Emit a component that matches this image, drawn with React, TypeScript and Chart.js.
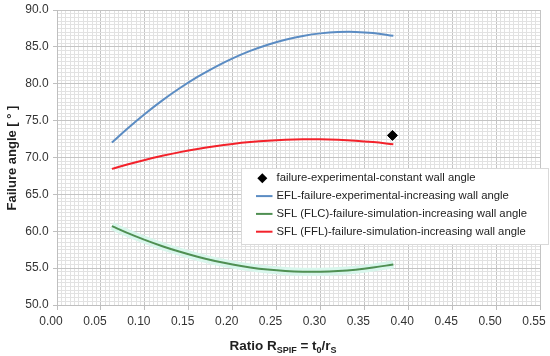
import React, { useEffect, useRef } from "react";
import { Chart, registerables } from "chart.js";

Chart.register(...registerables);

// x values (ratio R_SPIF) at which the curves were read
const curveX = [0.0625, 0.08, 0.1, 0.12, 0.14, 0.16, 0.18, 0.2, 0.22, 0.24, 0.26, 0.28, 0.3, 0.32, 0.34, 0.36, 0.383];
// EFL-failure-experimental-increasing wall angle
const eflY = [72.02, 73.91, 75.91, 77.75, 79.42, 80.92, 82.26, 83.44, 84.45, 85.29, 85.97, 86.48, 86.83, 87.01, 87.03, 86.88, 86.5];
// SFL (FLC)-failure-simulation-increasing wall angle
const sflFlcY = [60.7, 59.78, 58.83, 57.97, 57.21, 56.54, 55.96, 55.48, 55.1, 54.81, 54.61, 54.51, 54.51, 54.6, 54.78, 55.07, 55.5];
// SFL (FFL)-failure-simulation-increasing wall angle
const sflFflY = [68.46, 69.05, 69.67, 70.23, 70.73, 71.16, 71.53, 71.84, 72.09, 72.28, 72.4, 72.46, 72.46, 72.4, 72.28, 72.09, 71.8];
// failure-experimental-constant wall angle
const constX = [0.382];
const constY = [73.0];

const seriesLabels = [
  "failure-experimental-constant wall angle",
  "EFL-failure-experimental-increasing wall angle",
  "SFL (FLC)-failure-simulation-increasing wall angle",
  "SFL (FFL)-failure-simulation-increasing wall angle",
];

const X_MIN = 0, X_MAX = 0.55, X_MINOR = 0.005;
const Y_MIN = 50, Y_MAX = 90, Y_MINOR = 0.5;

const FONT = "'Liberation Sans', Arial, sans-serif";
const TXT = "#333333";

const toPts = (xs: number[], ys: number[]) => xs.map((x, i) => ({ x, y: ys[i] }));
const isMajorX = (v: number) => Math.round(v * 1000) % 50 === 0;
const isMajorY = (v: number) => Math.round(v * 10) % 50 === 0;

const overlayPlugin = {
  id: "overlay",
  afterDraw(chart: any) {
    const ctx = chart.ctx as CanvasRenderingContext2D;
    const ca = chart.chartArea;
    ctx.save();
    // Y title
    ctx.fillStyle = "#1f1f1f";
    ctx.font = `bold 13px ${FONT}`;
    ctx.textAlign = "center";
    ctx.textBaseline = "middle";
    ctx.save();
    ctx.translate(12.5, (ca.top + ca.bottom) / 2 + 0.5);
    ctx.rotate(-Math.PI / 2);
    ctx.fillText("Failure angle [ ° ]", 0, 0);
    ctx.restore();

    // X title with subscripts
    const parts: [string, boolean][] = [
      ["Ratio R", false], ["SPIF", true], [" = t", false], ["0", true], ["/r", false], ["S", true],
    ];
    const mainF = `bold 13.5px ${FONT}`;
    const subF = `bold 9px ${FONT}`;
    let total = 0;
    parts.forEach(([t, sub]) => { ctx.font = sub ? subF : mainF; total += ctx.measureText(t).width; });
    let x = 283 - total / 2;
    const base = 350;
    ctx.textAlign = "left";
    ctx.textBaseline = "alphabetic";
    parts.forEach(([t, sub]) => {
      ctx.font = sub ? subF : mainF;
      ctx.fillText(t, x, sub ? base + 3 : base);
      x += ctx.measureText(t).width;
    });

    // Legend
    const lx = 241.5, ly = 168.5, lw = 307, lh = 76;
    ctx.fillStyle = "#ffffff";
    ctx.fillRect(lx, ly, lw, lh);
    ctx.strokeStyle = "#d9d9d9";
    ctx.lineWidth = 1;
    ctx.strokeRect(lx, ly, lw, lh);
    const ds = chart.data.datasets.filter((d: any) => d.label);
    ds.forEach((d: any, i: number) => {
      const cy = 178.3 + i * 17.8;
      if (d.showLine === false) {
        ctx.fillStyle = d.backgroundColor;
        ctx.beginPath();
        ctx.moveTo(262.3, cy - 5);
        ctx.lineTo(267.3, cy);
        ctx.lineTo(262.3, cy + 5);
        ctx.lineTo(257.3, cy);
        ctx.closePath();
        ctx.fill();
      } else {
        ctx.strokeStyle = d.borderColor;
        ctx.lineWidth = 2;
        ctx.beginPath();
        ctx.moveTo(256, cy);
        ctx.lineTo(272.5, cy);
        ctx.stroke();
      }
      ctx.fillStyle = "#222222";
      ctx.font = `11.3px ${FONT}`;
      ctx.textBaseline = "middle";
      ctx.textAlign = "left";
      ctx.fillText(d.label, 276.5, cy);
    });
    ctx.restore();
  },
};

export default function App() {
  const ref = useRef<HTMLCanvasElement | null>(null);
  useEffect(() => {
    document.body.style.margin = "0";
    const canvas = ref.current!;
    const chart = new Chart(canvas, {
      type: "scatter",
      data: {
        datasets: [
          {
            label: seriesLabels[0],
            data: toPts(constX, constY),
            showLine: false,
            pointStyle: "rectRot",
            pointRadius: 5,
            backgroundColor: "#000000",
            borderColor: "#000000",
            order: 0,
          },
          {
            label: seriesLabels[1],
            data: toPts(curveX, eflY),
            showLine: true,
            pointRadius: 0,
            borderColor: "#5b8cc3",
            borderWidth: 2,
            tension: 0.4,
            order: 2,
          },
          {
            label: seriesLabels[2],
            data: toPts(curveX, sflFlcY),
            showLine: true,
            pointRadius: 0,
            borderColor: "#4f8f52",
            borderWidth: 2,
            tension: 0.4,
            order: 2,
          },
          {
            label: seriesLabels[3],
            data: toPts(curveX, sflFflY),
            showLine: true,
            pointRadius: 0,
            borderColor: "#f3222b",
            borderWidth: 2,
            tension: 0.4,
            order: 2,
          },
          {
            label: "",
            data: toPts(curveX, sflFlcY),
            showLine: true,
            pointRadius: 0,
            borderColor: "#d8f6ec",
            borderWidth: 8,
            tension: 0.4,
            order: 5,
          },
        ],
      },
      options: {
        responsive: false,
        animation: false,
        devicePixelRatio: 1,
        layout: { padding: { top: 10, right: 10, left: 0, bottom: 0 } },
        plugins: { legend: { display: false }, tooltip: { enabled: false } },
        scales: {
          x: {
            type: "linear",
            min: X_MIN,
            max: X_MAX,
            afterFit: (s: any) => { s.height = 51; s.paddingLeft = 0; s.paddingRight = 0; },
            ticks: {
              stepSize: X_MINOR,
              autoSkip: false,
              maxRotation: 0,
              padding: 4.5,
              labelOffset: -6,
              color: TXT,
              font: { family: FONT, size: 12 },
              callback: (v: any) => (isMajorX(Number(v)) ? Number(v).toFixed(2) : ""),
            },
            grid: {
              color: (c: any) => (isMajorX(c.tick?.value ?? 0) ? "#c4c4c4" : "#e2e2e2"),
              tickColor: (c: any) => (isMajorX(c.tick?.value ?? 0) ? "#bfbfbf" : "rgba(0,0,0,0)"),
              tickLength: 5,
            },
            border: { color: "#bfbfbf" },
          },
          y: {
            type: "linear",
            min: Y_MIN,
            max: Y_MAX,
            afterFit: (s: any) => { s.width = 57; s.paddingTop = 0; s.paddingBottom = 0; },
            ticks: {
              stepSize: Y_MINOR,
              autoSkip: false,
              padding: 4.4,
              color: TXT,
              font: { family: FONT, size: 12 },
              callback: (v: any) => (isMajorY(Number(v)) ? Number(v).toFixed(1) : ""),
            },
            grid: {
              color: (c: any) => (isMajorY(c.tick?.value ?? 0) ? "#c4c4c4" : "#e2e2e2"),
              tickColor: (c: any) => (isMajorY(c.tick?.value ?? 0) ? "#bfbfbf" : "rgba(0,0,0,0)"),
              tickLength: 4,
            },
            border: { color: "#bfbfbf" },
          },
        },
      },
      plugins: [overlayPlugin],
    });
    return () => chart.destroy();
  }, []);
  return <canvas ref={ref} width={550} height={356} style={{ display: "block", width: 550, height: 356 }} />;
}
